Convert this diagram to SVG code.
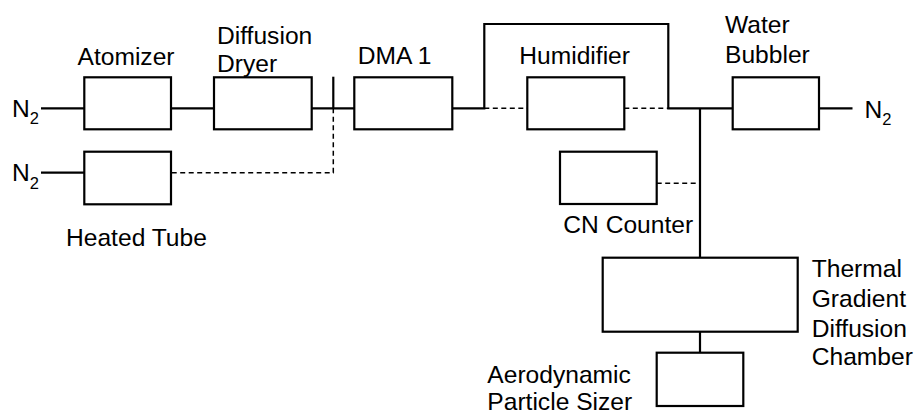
<svg xmlns="http://www.w3.org/2000/svg" width="914" height="414" viewBox="0 0 914 414">
<style>
.box{fill:#fff;stroke:#000;stroke-width:2.2}
.ln{fill:none;stroke:#000;stroke-width:2.2}
.dl{fill:none;stroke:#000;stroke-width:1.5;stroke-dasharray:5,3.5}
text{font-family:"Liberation Sans",Arial,sans-serif;font-size:24.6px;fill:#000}
.sub{font-size:16.5px}
</style>
<rect width="914" height="414" fill="#fff"/>
<g id="connectors">
<line class="ln" x1="41" y1="108.3" x2="84" y2="108.3"/>
<line class="ln" x1="41" y1="172.7" x2="84" y2="172.7"/>
<line class="ln" x1="171" y1="108.3" x2="214" y2="108.3"/>
<line class="ln" x1="312" y1="108.3" x2="354" y2="108.3"/>
<line class="ln" x1="333.3" y1="76.7" x2="333.3" y2="108.3"/>
<polyline class="dl" points="333.3,108.3 333.3,172.7 171,172.7"/>
<polyline class="ln" points="452,108.3 484.3,108.3 484.3,24 668.3,24 668.3,108.3 733,108.3"/>
<line class="dl" x1="484.3" y1="108.3" x2="527.3" y2="108.3"/>
<line class="dl" x1="624.3" y1="108.3" x2="668.3" y2="108.3"/>
<line class="ln" x1="819" y1="108.3" x2="852.5" y2="108.3"/>
<line class="ln" x1="700" y1="108.3" x2="700" y2="257.7"/>
<line class="dl" x1="656.7" y1="183.3" x2="700" y2="183.3"/>
<line class="ln" x1="700" y1="331.7" x2="700" y2="352.7"/>
</g>
<g id="n2-in-1"><text x="12" y="116.7">N<tspan class="sub" dy="7.6">2</tspan></text></g>
<g id="n2-in-2"><text x="12" y="181">N<tspan class="sub" dy="7.6">2</tspan></text></g>
<g id="n2-out"><text x="864.5" y="117.5">N<tspan class="sub" dy="7.6">2</tspan></text></g>
<g id="atomizer"><rect class="box" x="84.3" y="77.3" width="86.7" height="52"/><text x="77.5" y="65">Atomizer</text></g>
<g id="diffusion-dryer"><rect class="box" x="214" y="77.3" width="97.7" height="52"/><text x="217" y="44.3">Diffusion</text><text x="217" y="71.7">Dryer</text></g>
<g id="dma1"><rect class="box" x="354.3" y="77.3" width="98" height="52"/><text x="357.7" y="64.3">DMA 1</text></g>
<g id="heated-tube"><rect class="box" x="84.3" y="151.7" width="86.7" height="52.6"/><text x="66" y="246">Heated Tube</text></g>
<g id="humidifier"><rect class="box" x="527.3" y="77.3" width="97" height="52"/><text x="519.3" y="64.3">Humidifier</text></g>
<g id="water-bubbler"><rect class="box" x="732.7" y="77.3" width="86.3" height="52"/><text x="725" y="33.3">Water</text><text x="725" y="63.3">Bubbler</text></g>
<g id="cn-counter"><rect class="box" x="560" y="151.7" width="96.7" height="52.3"/><text x="563.3" y="233.3">CN Counter</text></g>
<g id="tgdc"><rect class="box" x="602.7" y="257.7" width="195" height="74"/><text x="811.7" y="277.3">Thermal</text><text x="811.7" y="306.7">Gradient</text><text x="811.7" y="336.7">Diffusion</text><text x="811.7" y="365">Chamber</text></g>
<g id="aps"><rect class="box" x="656.7" y="352.7" width="86.6" height="53.3"/><text x="487.3" y="383.3">Aerodynamic</text><text x="487.3" y="410">Particle Sizer</text></g>
</svg>
